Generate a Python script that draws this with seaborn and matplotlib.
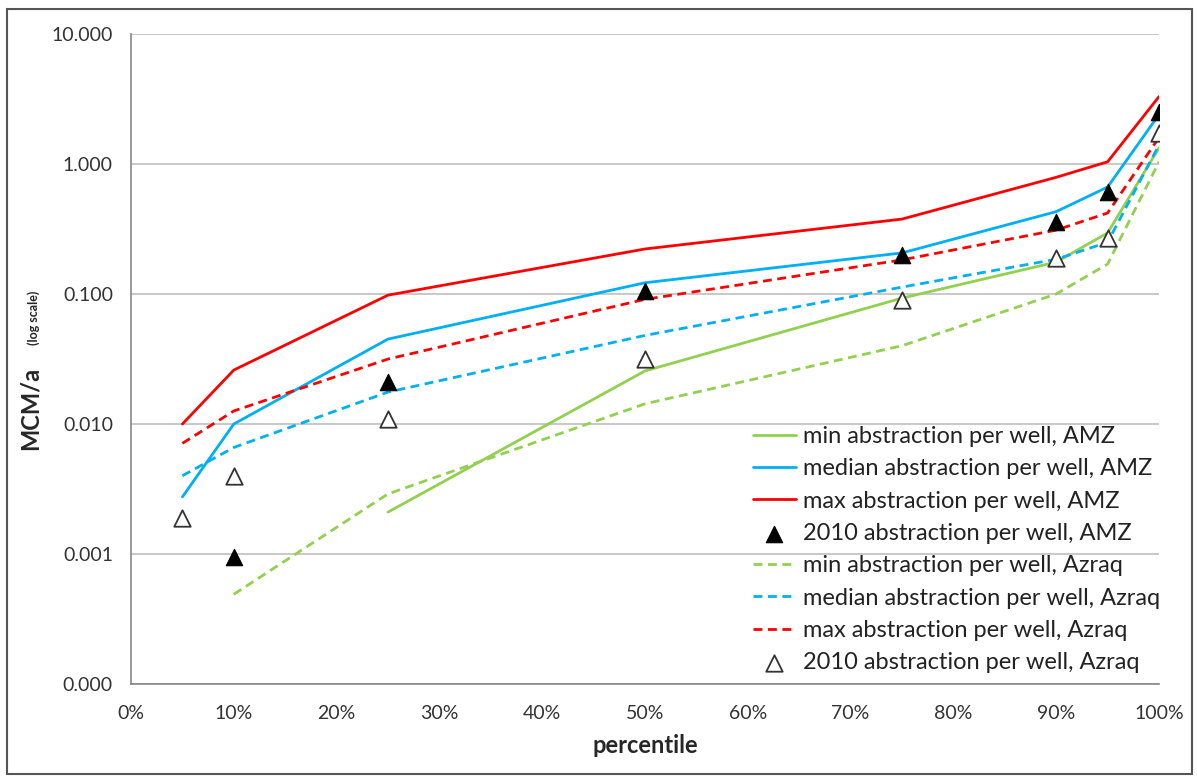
import matplotlib
matplotlib.use("Agg")
import matplotlib.pyplot as plt
import matplotlib.ticker as mticker
import seaborn as sns

# percentiles (%) and abstraction per well (MCM/a)
pct_all = [5, 10, 25, 50, 75, 90, 95, 100]
pct_no5 = [10, 25, 50, 75, 90, 95, 100]
pct_min_amz = [25, 50, 75, 90, 95, 100]

min_amz = [0.0021, 0.0256, 0.093, 0.176, 0.295, 1.33]
median_amz = [0.00275, 0.010, 0.045, 0.122, 0.207, 0.43, 0.665, 2.4]
max_amz = [0.010, 0.026, 0.098, 0.222, 0.377, 0.79, 1.04, 3.3]
y2010_amz = [0.00095, 0.021, 0.105, 0.20, 0.36, 0.61, 2.5]

min_azraq = [0.00049, 0.0029, 0.0143, 0.040, 0.100, 0.17, 1.04]
median_azraq = [0.0040, 0.0066, 0.0176, 0.048, 0.113, 0.185, 0.25, 1.4]
max_azraq = [0.0071, 0.0126, 0.0316, 0.091, 0.183, 0.31, 0.42, 1.6]
y2010_azraq = [0.0019, 0.0040, 0.011, 0.0316, 0.090, 0.19, 0.27, 1.73]

y_ticks = [0.0001, 0.001, 0.01, 0.1, 1, 10]
x_ticks = [0, 10, 20, 30, 40, 50, 60, 70, 80, 90, 100]

GREEN = "#92D050"
BLUE = "#00B0F0"
RED = "#FF0000"

sns.set_style("white")
plt.rcParams["font.family"] = ["Lato", "DejaVu Sans"]

fig = plt.figure(figsize=(11.97, 7.76), dpi=100)
ax = fig.add_axes([131 / 1197, 1 - 684 / 776, (1159 - 131) / 1197, (684 - 34) / 776])

lw = 2.0
dash = (3.2, 2.0)

sns.lineplot(x=pct_min_amz, y=min_amz, ax=ax, color=GREEN, lw=lw,
             label="min abstraction per well, AMZ")
sns.lineplot(x=pct_all, y=median_amz, ax=ax, color=BLUE, lw=lw,
             label="median abstraction per well, AMZ")
sns.lineplot(x=pct_all, y=max_amz, ax=ax, color=RED, lw=lw,
             label="max abstraction per well, AMZ")
sns.scatterplot(x=pct_no5, y=y2010_amz, ax=ax, marker="^", s=140, color="black",
                edgecolor="black", linewidth=0.8, zorder=5,
                label="2010 abstraction per well, AMZ")

# Azraq series are dashed
sns.lineplot(x=pct_no5, y=min_azraq, ax=ax, color=GREEN, lw=lw,
             label="min abstraction per well, Azraq")
ax.lines[-1].set_dashes(dash)
sns.lineplot(x=pct_all, y=median_azraq, ax=ax, color=BLUE, lw=lw,
             label="median abstraction per well, Azraq")
ax.lines[-1].set_dashes(dash)
sns.lineplot(x=pct_all, y=max_azraq, ax=ax, color=RED, lw=lw,
             label="max abstraction per well, Azraq")
ax.lines[-1].set_dashes(dash)
sns.scatterplot(x=pct_all, y=y2010_azraq, ax=ax, marker="^", s=140, color="white",
                edgecolor="#333333", linewidth=1.3, zorder=5,
                label="2010 abstraction per well, Azraq")

ax.set_yscale("log")
ax.set_ylim(0.0001, 10)
ax.set_xlim(0, 100)
ax.set_yticks(y_ticks)
ax.yaxis.set_minor_locator(mticker.NullLocator())
ax.yaxis.set_major_formatter(mticker.FuncFormatter(lambda v, p: f"{v:.3f}"))
ax.set_xticks(x_ticks)
ax.xaxis.set_major_formatter(mticker.FuncFormatter(lambda v, p: f"{v:.0f}%"))
ax.tick_params(axis="both", labelsize=14, colors="#333333", length=5,
               width=1, direction="out")
ax.tick_params(axis="y", pad=8)
ax.tick_params(axis="x", pad=10)

ax.grid(axis="y", color="#BFBFBF", lw=1.2)
ax.set_axisbelow(True)
for s in ["top", "right"]:
    ax.spines[s].set_visible(False)
for s in ["left", "bottom"]:
    ax.spines[s].set_color("#868686")
    ax.spines[s].set_linewidth(1.2)

ax.set_xlabel("percentile", fontsize=17, fontweight="bold", labelpad=9)
ax.set_ylabel("")
fig.text(30 / 1197, 1 - 408 / 776, "MCM/a", rotation=90, fontsize=17,
         fontweight="bold", ha="center", va="center")
fig.text(34 / 1197, 1 - 318 / 776, "(log scale)", rotation=90, fontsize=9,
         fontweight="bold", ha="center", va="center")

leg = ax.legend(loc="upper left", bbox_to_anchor=(753 / 1197, 1 - 426 / 776),
                bbox_transform=fig.transFigure, frameon=False, fontsize=17,
                handlelength=1.8, handletextpad=0.3, labelspacing=0.48,
                borderaxespad=0, borderpad=0)
for t in leg.get_texts():
    t.set_color("#222222")

# outer border of the figure
fig.patches.append(plt.Rectangle((0.006, 0.003), 0.99, 0.985, transform=fig.transFigure,
                                 fill=False, edgecolor="#555555", lw=1.5))

plt.savefig("out.png", dpi=100)
plt.close()
